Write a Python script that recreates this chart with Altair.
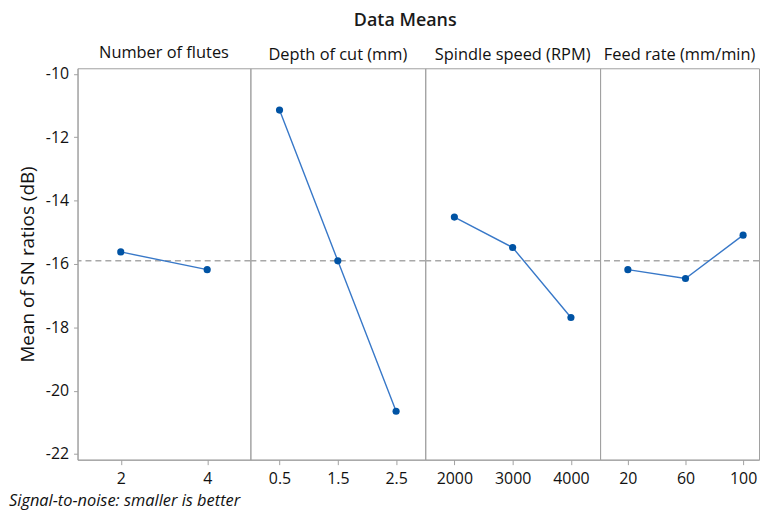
import altair as alt
import pandas as pd

factors = ["Number of flutes", "Depth of cut (mm)", "Spindle speed (RPM)", "Feed rate (mm/min)"]
levels = [["2", "4"], ["0.5", "1.5", "2.5"], ["2000", "3000", "4000"], ["20", "60", "100"]]
sn_means = [[-15.62, -16.18], [-11.14, -15.90, -20.65], [-14.52, -15.48, -17.69], [-16.18, -16.46, -15.09]]
overall_mean = [-15.90]
y_ticks = [-22, -20, -18, -16, -14, -12, -10]
footer = ["Signal-to-noise: smaller is better"]

FONT = "Open Sans"
GRAY = "#a0a0a0"
TXT = "#111111"
widths = [174, 176, 176, 160]
H = 394

panels = []
for i, (fac, lv, vals) in enumerate(zip(factors, levels, sn_means)):
    df = pd.DataFrame({"level": lv, "sn": vals})
    if i == 3:
        xscale = alt.Scale(padding=0.3793, align=0.636)
    else:
        xscale = alt.Scale(padding=0.5)
    if i == 0:
        yaxis = alt.Axis(title="Mean of SN ratios (dB)", values=y_ticks, grid=False,
                         labelExpr="toString(datum.value)",
                         tickSize=4, tickColor=GRAY, domainColor=GRAY,
                         labelFontSize=16, labelFont=FONT, labelColor=TXT,
                         titleFontSize=19, titleFont=FONT, titleFontWeight="normal",
                         titleColor=TXT, titlePadding=8, labelPadding=5)
    else:
        yaxis = None
    x = alt.X("level:N", sort=lv, scale=xscale,
              axis=alt.Axis(title=None, labelAngle=0, tickSize=5, tickColor=GRAY,
                            domainColor=GRAY, labelFontSize=16, labelFont=FONT,
                            labelColor=TXT, labelPadding=6))
    y = alt.Y("sn:Q", scale=alt.Scale(domain=[-22.18, -9.82], nice=False, zero=False), axis=yaxis)
    base = alt.Chart(df).encode(x=x, y=y)
    line = base.mark_line(color="#3878c8", strokeWidth=1.4)
    pts = base.mark_point(filled=True, color="#0053a4", size=52, opacity=1)
    rule = alt.Chart(pd.DataFrame({"m": overall_mean})).mark_rule(
        color="#a8a8a8", strokeDash=[6, 4], strokeWidth=1.5).encode(y=alt.Y("m:Q", axis=yaxis))
    layers = [rule, line, pts]
    if i == 0:
        foot = alt.Chart(pd.DataFrame({"t": footer})).mark_text(
            align="left", baseline="alphabetic", fontStyle="italic", fontSize=16.5,
            font=FONT, color=TXT).encode(text="t:N", x=alt.value(-69), y=alt.value(H + 47))
        layers.append(foot)
    panel = alt.layer(*layers).properties(
        width=widths[i], height=H,
        title=alt.Title(fac, fontSize=16.5, font=FONT, fontWeight="normal", color=TXT, offset=5))
    panels.append(panel)

chart = alt.hconcat(*panels, spacing=0, bounds="flush").resolve_scale(
    x="independent", y="independent").properties(
    title=alt.Title("Data Means", fontSize=18, font=FONT, fontWeight=600, color="#1a1a1a",
                    anchor="middle", offset=14, dx=21),
    padding={"top": 2, "left": 0, "right": 0, "bottom": 0},
).configure_view(stroke=GRAY, strokeWidth=1)

chart.save("out.html", embed_options={"renderer": "svg", "actions": False})
